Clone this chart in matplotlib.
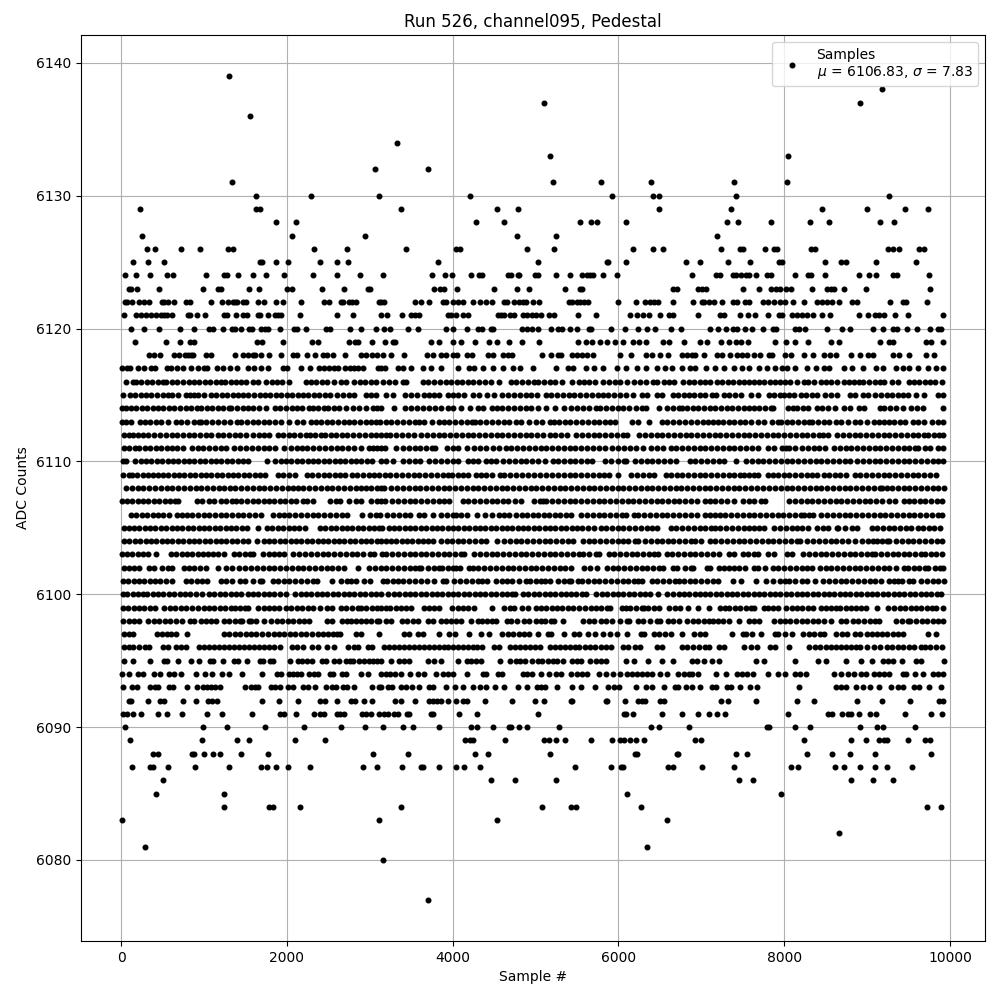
import matplotlib
matplotlib.use("Agg")
import matplotlib.pyplot as plt

# sample numbers, one list per ADC level
s6139 = [1301]
s6138 = [9176]
s6137 = [5108, 8909]
s6136 = [1554]
s6134 = [3325]
s6133 = [5169, 8048]
s6132 = [3060, 3699]
s6131 = [1337, 5205, 5795, 6398, 7394, 8036]
s6130 = [1626, 2289, 3108, 4205, 5928, 6422, 6494, 7418, 9260]
s6129 = [229, 1626, 1675, 3373, 4530, 4783, 6494, 7358, 8461, 8994, 9454, 9733]
s6128 = [1867, 2108, 4277, 4614, 5542, 5675, 5747, 6096, 7309, 7442, 7842, 8315, 8545, 9151, 9321]
s6127 = [253, 2060, 2940, 4771, 5241, 7188]
s6126 = [313, 410, 723, 952, 1289, 1353, 2325, 2723, 3434, 4036, 4084, 4892, 5217, 6181, 6422, 6542,
         7236, 7467, 7503, 7770, 7879, 7915, 8327, 8376, 9248, 9309, 9382, 9624, 9685]
s6125 = [145, 325, 518, 1675, 1699, 1867, 2012, 2398, 2602, 2735, 3819, 5024, 5867, 5880, 6096,
         6812, 6982, 7321, 7588, 7939, 7976, 8497, 8691, 8751, 9103, 9588]
s6124 = [48, 181, 349, 554, 626, 1024, 1241, 1277, 1410, 1590, 1747, 1964, 2313, 2602, 2880,
         3157, 3747, 3904, 3988, 4217, 4313, 4349, 4663, 4699, 4783, 4795, 4988, 5024, 5253, 5410,
         5566, 5627, 5663, 5699, 5819, 5988, 6885, 7176, 7224, 7382, 7418, 7479, 7539, 7576, 7661,
         7794, 7842, 8133, 8291, 8327, 8497, 8897, 9018, 9103, 9309, 9357, 9745]
s6123 = [96, 120, 193, 458, 988, 1169, 1205, 1542, 1663, 2000, 2060, 2422, 2687, 2976, 3000,
         3771, 3843, 3892, 4048, 4494, 4771, 4916, 5361, 5542, 5566, 6663, 6711, 6958, 7006, 7055,
         7503, 7697, 7842, 7903, 7952, 8024, 8085, 8339, 8521, 8570, 8606, 8727, 8982, 9757]
s6122 = [48, 72, 133, 217, 277, 337, 494, 518, 566, 639, 783, 831, 1084, 1217, 1289, 1349, 1373, 1397,
         1470, 1506, 1651, 1723, 1867, 1952, 2169, 2446, 2506, 2651, 2675, 2747, 2783, 2831, 3108,
         3140, 3176, 3542, 3614, 3711, 3880, 3916, 4000, 4060, 4120, 4241, 4325, 4398, 4470, 4614,
         4651, 4735, 4795, 4843, 4880, 4964, 5036, 5398, 5446, 5506, 5542, 5590, 5639, 6000, 6217,
         6325, 6386, 6434, 6482, 6663, 6897, 7006, 7030, 7091, 7152, 7249, 7382, 7430, 7527, 7576,
         7745, 7806, 7879, 7952, 8012, 8109, 8242, 8400, 8461, 8521, 8582, 8667, 8824, 8873, 9273,
         9430, 9467, 9721]
s6121 = [36, 181, 241, 301, 361, 422, 482, 518, 554, 614, 807, 831, 916, 1012, 1241, 1277, 1386, 1470,
         1518, 1651, 1675, 1771, 1855, 1892, 1928, 2157, 2602, 2795, 3133, 3205, 3386, 3494, 3542,
         3590, 3940, 3976, 4036, 4120, 4181, 4542, 4578, 4614, 4687, 4735, 4843, 4892, 4952, 5000,
         5072, 5157, 5217, 5518, 5735, 6145, 6229, 6301, 6373, 6506, 6614, 6663, 6958, 7224, 7273,
         7467, 7564, 7648, 7806, 7939, 7976, 8097, 8158, 8218, 8279, 8351, 8461, 8558, 8897, 9006,
         9091, 9139, 9200, 9333, 9491, 9915]
s6120 = [120, 277, 458, 711, 880, 1060, 1108, 1229, 1337, 1373, 1446, 1542, 1578, 1687, 1735, 1771,
         1916, 2084, 2121, 2229, 2470, 2518, 2759, 2892, 3072, 3169, 3241, 3458, 3578, 3916, 4000,
         4169, 4301, 4349, 4458, 4482, 4831, 4892, 4952, 5024, 5181, 5277, 5325, 5410, 5506, 5651,
         5675, 5916, 6084, 6241, 6349, 6446, 6639, 6752, 7103, 7200, 7297, 7382, 7430, 7527, 7612,
         7745, 7867, 7903, 8133, 8182, 8255, 8521, 8703, 8788, 9067, 9188, 9309, 9357, 9479, 9600,
         9757, 9855, 9891]
s6119 = [169, 542, 711, 831, 880, 1638, 1699, 1952, 2301, 2373, 2747, 2819, 2855, 3024, 3181, 3277, 3301,
         3735, 3831, 4000, 4096, 4265, 4434, 4530, 4675, 4831, 5036, 5518, 5614, 5687, 5783, 5867,
         5964, 6060, 6181, 6253, 6337, 6542, 6614, 6788, 6982, 7067, 7236, 7333, 7418, 7479, 7564,
         7887, 8024, 8133, 8291, 8570, 8667, 9151, 9261, 9309, 9709, 9770, 9915]
s6118 = [337, 402, 466, 642, 699, 771, 803, 843, 867, 1028, 1084, 1373, 1470, 1534, 1590, 1618, 1690,
         1787, 1928, 2072, 2120, 2241, 2337, 2434, 2490, 2554, 2699, 2896, 2960, 3028, 3084, 3157,
         3257, 3410, 3687, 3759, 3855, 3920, 4000, 4048, 4169, 4229, 4422, 4482, 4602, 4663, 4711,
         5084, 5181, 5277, 5313, 5434, 5506, 5566, 5627, 5699, 6024, 6157, 6337, 6410, 6506, 6602,
         6763, 6823, 6884, 6920, 7030, 7188, 7249, 7350, 7430, 7491, 7552, 7633, 7713, 7814, 7855,
         8012, 8085, 8242, 8351, 8485, 8558, 8630, 8812, 8909, 9006, 9067, 9309, 9382, 9503, 9709, 9806]
s6117 = [12, 72, 104, 205, 281, 365, 410, 554, 602, 675, 747, 847, 928, 1000, 1040, 1157, 1229, 1313, 1398,
         1530, 1602, 1686, 1771, 1952, 2000, 2169, 2277, 2386, 2446, 2506, 2566, 2614, 2699, 2759,
         2807, 2855, 2916, 3096, 3133, 3189, 3337, 3398, 3498, 3639, 3739, 3859, 4060, 4201, 4253,
         4361, 4482, 4602, 4723, 4807, 4964, 5253, 5386, 5458, 5606, 5707, 5815, 5988, 6088, 6229,
         6329, 6470, 6562, 6651, 6764, 6865, 6925, 7055, 7168, 7269, 7390, 7491, 7572, 7693, 7794,
         7895, 7976, 8036, 8133, 8279, 8380, 8485, 8541, 8723, 8824, 8945, 9107, 9188, 9349, 9430,
         9511, 9612, 9733, 9834, 9915]
s6116 = [64, 140, 177, 245, 310, 375, 440, 505, 546, 610, 680, 745, 815, 880, 945, 1010, 1075, 1140, 1205,
         1253, 1325, 1385, 1450, 1510, 1590, 1650, 1747, 1815, 1880, 1940, 2020, 2233, 2290, 2350,
         2418, 2490, 2566, 2650, 2715, 2815, 2880, 2940, 3016, 3080, 3157, 3229, 3301, 3398, 3438,
         3639, 3705, 3775, 3845, 3915, 3985, 4050, 4115, 4185, 4245, 4321, 4390, 4462, 4554, 4703,
         4770, 4840, 4904, 4980, 5030, 5100, 5170, 5240, 5325, 5438, 5526, 5590, 5650, 5720, 5808,
         5888, 5960, 6020, 6108, 6190, 6260, 6330, 6420, 6470, 6550, 6610, 6670, 6784, 6850, 6915,
         6985, 7050, 7110, 7188, 7250, 7320, 7385, 7450, 7515, 7570, 7630, 7695, 7760, 7825, 7890,
         7950, 8010, 8075, 8158, 8235, 8290, 8360, 8440, 8510, 8570, 8640, 8720, 8780, 8840, 8900,
         8955, 9026, 9090, 9150, 9210, 9300, 9375, 9500, 9565, 9630, 9695, 9760, 9820, 9905]
s6115 = [24, 105, 170, 235, 300, 365, 430, 506, 570, 620, 687, 785, 830, 880, 930, 1000, 1084, 1150, 1215,
         1280, 1345, 1410, 1475, 1530, 1600, 1670, 1735, 1800, 1865, 1930, 2000, 2065, 2130, 2195,
         2260, 2330, 2390, 2455, 2515, 2610, 2680, 2750, 2810, 2950, 3010, 3075, 3200, 3285, 3430,
         3500, 3570, 3660, 3720, 3780, 3840, 3940, 4010, 4070, 4140, 4240, 4320, 4420, 4500, 4590,
         4670, 4745, 4810, 4880, 4950, 5020, 5125, 5190, 5260, 5330, 5400, 5470, 5540, 5610, 5680,
         5750, 5820, 5880, 5950, 6020, 6090, 6170, 6290, 6340, 6465, 6530, 6660, 6715, 6790, 6850,
         6915, 6990, 7050, 7125, 7180, 7270, 7330, 7410, 7480, 7600, 7680, 7815, 7880, 7945, 8000,
         8060, 8120, 8200, 8260, 8340, 8400, 8490, 8560, 8640, 8800, 8850, 8945, 9010, 9100, 9170,
         9240, 9300, 9370, 9430, 9490, 9590, 9690, 9850, 9915]
s6114 = [12, 60, 120, 185, 250, 315, 380, 450, 510, 580, 640, 715, 780, 840, 910, 970, 1035, 1100, 1165,
         1230, 1300, 1330, 1400, 1465, 1530, 1590, 1660, 1750, 1860, 1920, 1990, 2060, 2120, 2180,
         2270, 2310, 2380, 2450, 2500, 2570, 2630, 2715, 2800, 2875, 2960, 3040, 3090, 3136, 3297,
         3430, 3500, 3570, 3640, 3720, 3790, 3860, 3940, 4000, 4100, 4210, 4300, 4370, 4480, 4540,
         4600, 4670, 4740, 4810, 4880, 4950, 5030, 5130, 5230, 5340, 5430, 5500, 5570, 5640, 5730,
         5780, 5850, 5920, 5990, 6060, 6130, 6210, 6290, 6330, 6490, 6590, 6660, 6730, 6770, 6830,
         6900, 6960, 7030, 7100, 7170, 7240, 7310, 7370, 7440, 7510, 7570, 7640, 7700, 7770, 7840,
         7860, 8040, 8110, 8160, 8230, 8290, 8400, 8460, 8530, 8610, 8720, 8790, 8900, 8960, 9150,
         9210, 9280, 9350, 9430, 9530, 9600, 9680, 9915]
s6113 = [12, 60, 125, 225, 290, 345, 420, 480, 560, 660, 725, 800, 880, 945, 965, 1030, 1100, 1170, 1240,
         1310, 1400, 1450, 1520, 1590, 1650, 1720, 1790, 1860, 1930, 2020, 2120, 2190, 2290, 2350,
         2410, 2480, 2550, 2620, 2690, 2750, 2810, 2880, 2950, 3010, 3080, 3120, 3190, 3260, 3330,
         3400, 3470, 3540, 3600, 3660, 3750, 3830, 3890, 3960, 4030, 4100, 4170, 4230, 4270, 4330,
         4400, 4480, 4550, 4620, 4680, 4770, 4830, 4920, 5000, 5080, 5170, 5220, 5280, 5350, 5420,
         5490, 5560, 5630, 5700, 5770, 5840, 5900, 5960, 6160, 6240, 6370, 6520, 6590, 6660, 6730,
         6800, 6870, 6950, 7020, 7080, 7140, 7200, 7260, 7340, 7400, 7470, 7530, 7600, 7680, 7760,
         7850, 7920, 7960, 8030, 8100, 8170, 8240, 8300, 8340, 8410, 8480, 8540, 8620, 8690, 8770,
         8860, 8920, 9000, 9080, 9140, 9200, 9260, 9330, 9400, 9460, 9550, 9620, 9690, 9780, 9860, 9920]
s6112 = [30, 90, 140, 205, 270, 330, 400, 470, 540, 610, 680, 750, 820, 880, 950, 1020, 1090, 1170, 1230,
         1300, 1370, 1440, 1510, 1590, 1660, 1720, 1780, 1890, 1950, 2020, 2090, 2160, 2230, 2280,
         2345, 2410, 2460, 2530, 2590, 2660, 2730, 2800, 2870, 2940, 3010, 3080, 3140, 3190, 3250,
         3320, 3390, 3460, 3530, 3620, 3690, 3760, 3830, 3900, 3970, 4040, 4110, 4180, 4250, 4320,
         4390, 4460, 4530, 4600, 4670, 4740, 4810, 4880, 4950, 5020, 5090, 5175, 5240, 5310, 5375,
         5490, 5560, 5630, 5700, 5770, 5840, 5910, 5980, 6050, 6108, 6250, 6320, 6390, 6460, 6530,
         6600, 6670, 6740, 6810, 6880, 6950, 7020, 7090, 7160, 7230, 7300, 7370, 7440, 7510, 7580,
         7650, 7720, 7790, 7860, 7930, 8000, 8070, 8140, 8210, 8280, 8350, 8420, 8470, 8525, 8640,
         8710, 8780, 8850, 8910, 8990, 9060, 9130, 9200, 9270, 9340, 9410, 9480, 9550, 9620, 9690,
         9730, 9810, 9870, 9920]
s6111 = [32, 95, 165, 215, 290, 350, 420, 485, 550, 615, 680, 750, 855, 925, 990, 1060, 1130, 1200, 1270,
         1360, 1440, 1510, 1580, 1650, 1720, 1790, 1860, 1960, 2050, 2120, 2180, 2245, 2320, 2390,
         2460, 2530, 2600, 2670, 2740, 2810, 2890, 2990, 3040, 3090, 3140, 3180, 3317, 3400, 3470,
         3540, 3610, 3680, 3750, 3790, 3930, 4000, 4070, 4170, 4260, 4330, 4400, 4490, 4562, 4640,
         4710, 4780, 4850, 4920, 4990, 5060, 5130, 5200, 5270, 5340, 5410, 5480, 5550, 5620, 5690,
         5760, 5840, 5920, 6000, 6070, 6140, 6210, 6300, 6390, 6460, 6540, 6640, 6700, 6770, 6840,
         6910, 6980, 7050, 7120, 7190, 7260, 7330, 7400, 7470, 7540, 7610, 7680, 7810, 7880, 7970,
         8020, 8060, 8130, 8220, 8290, 8360, 8420, 8490, 8600, 8670, 8740, 8810, 8880, 8950, 9020,
         9090, 9160, 9230, 9300, 9370, 9450, 9500, 9580, 9620, 9700, 9760, 9860, 9915]
s6110 = [22, 55, 170, 235, 300, 365, 430, 495, 560, 625, 690, 755, 820, 885, 950, 1015, 1080, 1145, 1210,
         1275, 1340, 1405, 1470, 1530, 1762, 1860, 1925, 1990, 2055, 2120, 2185, 2250, 2315, 2380,
         2445, 2510, 2575, 2640, 2705, 2770, 2835, 2900, 2965, 3030, 3130, 3190, 3280, 3400, 3470,
         3540, 3610, 3720, 3790, 3860, 3930, 4000, 4060, 4180, 4250, 4310, 4400, 4460, 4520, 4610,
         4680, 4750, 4820, 4890, 4960, 5030, 5110, 5205, 5270, 5340, 5410, 5480, 5550, 5620, 5680,
         5840, 5910, 5990, 6070, 6090, 6200, 6270, 6340, 6410, 6480, 6550, 6620, 6690, 6860, 6930,
         7000, 7070, 7140, 7210, 7270, 7420, 7540, 7610, 7680, 7750, 7820, 7890, 7960, 8030, 8100,
         8170, 8240, 8310, 8380, 8450, 8520, 8590, 8660, 8730, 8790, 8880, 8950, 9020, 9090, 9160,
         9230, 9300, 9370, 9440, 9510, 9580, 9650, 9720, 9790, 9860, 9910]
s6109 = [20, 90, 135, 195, 260, 320, 385, 450, 500, 570, 635, 700, 760, 830, 895, 960, 1025, 1090, 1155,
         1220, 1285, 1350, 1415, 1480, 1545, 1610, 1680, 1735, 1890, 1955, 2020, 2100, 2241, 2305,
         2380, 2446, 2510, 2580, 2640, 2700, 2785, 2850, 2920, 2985, 3050, 3110, 3180, 3250, 3320,
         3390, 3460, 3530, 3595, 3670, 3740, 3810, 3880, 3950, 3990, 4060, 4130, 4190, 4280, 4340,
         4400, 4470, 4570, 4620, 4690, 4760, 4840, 4910, 4980, 5050, 5130, 5200, 5270, 5340, 5410,
         5480, 5550, 5620, 5690, 5760, 5830, 5890, 5990, 6150, 6230, 6300, 6370, 6430, 6570, 6640,
         6710, 6770, 6840, 6910, 6980, 7050, 7120, 7190, 7260, 7330, 7400, 7470, 7510, 7570, 7630,
         7680, 7800, 7860, 7930, 8000, 8060, 8130, 8200, 8270, 8340, 8400, 8480, 8540, 8610, 8670,
         8750, 8850, 8920, 8990, 9060, 9130, 9200, 9270, 9340, 9410, 9480, 9550, 9620, 9690, 9760, 9830]
s6108 = [60, 130, 200, 270, 340, 410, 480, 550, 620, 690, 760, 830, 900, 970, 1040, 1110, 1180, 1240, 1310,
         1380, 1450, 1515, 1590, 1660, 1730, 1800, 1870, 1940, 2010, 2080, 2130, 2200, 2270, 2340,
         2410, 2480, 2550, 2620, 2690, 2760, 2830, 2890, 2950, 3020, 3090, 3140, 3170, 3260, 3330,
         3400, 3470, 3540, 3610, 3680, 3750, 3820, 3890, 3960, 4030, 4100, 4170, 4240, 4310, 4380,
         4450, 4520, 4590, 4660, 4730, 4800, 4870, 4940, 5010, 5080, 5150, 5220, 5290, 5360, 5430,
         5500, 5570, 5640, 5710, 5780, 5850, 5920, 5990, 6060, 6130, 6200, 6270, 6340, 6410, 6480,
         6550, 6620, 6690, 6760, 6830, 6900, 6970, 7040, 7110, 7180, 7250, 7320, 7390, 7460, 7530,
         7600, 7670, 7750, 7820, 7890, 7960, 8030, 8100, 8170, 8240, 8310, 8380, 8450, 8520, 8590,
         8660, 8730, 8800, 8870, 8940, 9010, 9080, 9150, 9180, 9240, 9300, 9370, 9440, 9510, 9580,
         9650, 9720, 9790, 9860, 9925]
s6107 = [12, 70, 135, 200, 265, 330, 395, 460, 525, 590, 650, 690, 915, 980, 1060, 1120, 1210, 1270,
         1340, 1390, 1450, 1520, 1590, 1650, 1720, 1780, 1840, 1915, 1980, 2050, 2110, 2190, 2240, 2310,
         2520, 2590, 2640, 2750, 2830, 2900, 3020, 3090, 3130, 3180, 3270, 3340, 3410, 3480, 3550,
         3620, 3690, 3760, 3830, 3900, 3960, 4120, 4190, 4260, 4330, 4400, 4470, 4540, 4610, 4670,
         4750, 4820, 4980, 5050, 5090, 5130, 5200, 5270, 5340, 5410, 5480, 5550, 5620, 5690, 5760,
         5830, 5900, 5970, 6040, 6110, 6180, 6250, 6320, 6390, 6460, 6530, 6600, 6670, 6730, 6800,
         6870, 6950, 7050, 7100, 7170, 7240, 7310, 7390, 7500, 7570, 7640, 7720, 7770, 8060, 8130,
         8200, 8270, 8340, 8410, 8480, 8550, 8620, 8690, 8760, 8830, 8900, 8970, 9040, 9110, 9180,
         9270, 9340, 9440, 9510, 9570, 9640, 9700, 9770, 9840, 9905]
s6106 = [125, 185, 250, 315, 380, 445, 510, 580, 680, 740, 800, 860, 930, 1000, 1060, 1130, 1200, 1270,
         1340, 1410, 1470, 1540, 1610, 1690, 1830, 1900, 1960, 2020, 2100, 2170, 2240, 2310, 2380,
         2450, 2520, 2590, 2660, 2730, 2910, 3000, 3070, 3120, 3210, 3280, 3350, 3420, 3490, 3590,
         3660, 3760, 3860, 3930, 4010, 4040, 4100, 4170, 4290, 4390, 4480, 4560, 4620, 4680, 4770,
         4840, 4900, 4970, 5030, 5100, 5160, 5230, 5300, 5370, 5430, 5550, 5620, 5690, 5760, 5830,
         5900, 5970, 6040, 6090, 6190, 6240, 6310, 6380, 6450, 6520, 6590, 6660, 6730, 6800, 6870,
         6950, 7040, 7100, 7160, 7220, 7290, 7360, 7430, 7500, 7570, 7640, 7710, 7780, 7850, 7920,
         7990, 8060, 8130, 8200, 8240, 8300, 8350, 8450, 8520, 8590, 8660, 8730, 8800, 8870, 8940,
         9010, 9080, 9150, 9220, 9290, 9360, 9430, 9500, 9570, 9640, 9710, 9780, 9850, 9905]
s6105 = [30, 90, 155, 220, 285, 350, 415, 480, 545, 610, 675, 740, 805, 870, 935, 1000, 1065, 1130, 1195,
         1260, 1325, 1390, 1455, 1525, 1650, 1760, 1825, 1890, 1955, 2020, 2085, 2150, 2215, 2400,
         2465, 2530, 2595, 2660, 2725, 2790, 2855, 2920, 2985, 3050, 3110, 3150, 3230, 3290, 3355,
         3420, 3485, 3550, 3615, 3680, 3745, 3810, 3875, 3940, 4005, 4070, 4135, 4200, 4265, 4330,
         4395, 4460, 4525, 4590, 4655, 4720, 4785, 4850, 4915, 4980, 5045, 5110, 5175, 5240, 5305,
         5370, 5435, 5500, 5565, 5630, 5710, 5790, 5850, 5920, 5990, 6060, 6130, 6200, 6270, 6340,
         6410, 6470, 6640, 6700, 6770, 6840, 6910, 6980, 7050, 7120, 7160, 7230, 7300, 7370, 7440,
         7510, 7580, 7640, 7700, 7760, 7880, 7950, 8020, 8090, 8160, 8220, 8290, 8390, 8470, 8530,
         8640, 8650, 8730, 8820, 8880, 9060, 9120, 9190, 9260, 9330, 9400, 9470, 9530, 9610, 9680,
         9750, 9810, 9880]
s6104 = [40, 100, 165, 230, 295, 360, 425, 490, 555, 620, 685, 750, 815, 880, 945, 1010, 1075, 1140, 1205,
         1270, 1335, 1400, 1465, 1530, 1640, 1720, 1785, 1850, 1915, 1980, 2045, 2110, 2175, 2240,
         2305, 2370, 2435, 2500, 2565, 2630, 2695, 2760, 2825, 2890, 2955, 3020, 3085, 3130, 3190,
         3255, 3320, 3385, 3450, 3515, 3580, 3645, 3700, 3760, 3860, 3930, 3990, 4060, 4130, 4200,
         4270, 4340, 4400, 4540, 4620, 4690, 4760, 4830, 4900, 4970, 5040, 5110, 5180, 5250, 5320,
         5390, 5450, 5570, 5640, 5710, 5780, 5850, 5920, 5990, 6060, 6110, 6200, 6240, 6320, 6390,
         6460, 6530, 6600, 6660, 6730, 6800, 6870, 6930, 7000, 7100, 7170, 7240, 7310, 7380, 7450,
         7520, 7590, 7660, 7730, 7800, 7870, 7940, 8010, 8080, 8150, 8190, 8280, 8350, 8420, 8490,
         8560, 8630, 8700, 8770, 8850, 8940, 9010, 9070, 9120, 9180, 9240, 9270, 9350, 9420, 9490,
         9560, 9630, 9700, 9770, 9840, 9905]
s6103 = [12, 70, 135, 200, 265, 320, 420, 600, 665, 730, 795, 860, 925, 990, 1050, 1110, 1170, 1240, 1360,
         1420, 1490, 1550, 1590, 1710, 1780, 1840, 1910, 1960, 2080, 2150, 2220, 2290, 2360, 2430,
         2500, 2570, 2640, 2710, 2780, 2850, 2920, 3000, 3050, 3150, 3200, 3270, 3340, 3410, 3480,
         3540, 3620, 3680, 3750, 3820, 3890, 3960, 4030, 4100, 4140, 4260, 4330, 4400, 4470, 4540,
         4610, 4680, 4750, 4820, 4890, 4960, 5030, 5100, 5170, 5240, 5310, 5380, 5450, 5520, 5570,
         5650, 5730, 5770, 5890, 5950, 6020, 6090, 6160, 6230, 6300, 6370, 6430, 6480, 6590, 6650,
         6720, 6790, 6860, 6930, 7000, 7070, 7140, 7210, 7330, 7395, 7500, 7560, 7630, 7680, 7800,
         7880, 8030, 8100, 8230, 8300, 8370, 8440, 8510, 8580, 8650, 8720, 8790, 8860, 8930, 9000,
         9060, 9100, 9170, 9240, 9310, 9370, 9440, 9510, 9580, 9650, 9700, 9770, 9830, 9905]
s6102 = [30, 90, 155, 215, 340, 400, 490, 560, 620, 760, 825, 880, 950, 1020, 1170, 1270, 1340, 1420, 1500,
         1570, 1640, 1710, 1780, 1850, 1920, 1990, 2060, 2130, 2200, 2270, 2340, 2410, 2480, 2550,
         2620, 2690, 2860, 2990, 3060, 3130, 3200, 3270, 3340, 3410, 3480, 3550, 3590, 3620, 3700,
         3770, 3840, 3870, 3940, 4010, 4040, 4090, 4200, 4240, 4310, 4380, 4450, 4520, 4590, 4670,
         4730, 4800, 4870, 4940, 5010, 5080, 5150, 5220, 5290, 5360, 5430, 5590, 5660, 5740, 5860,
         5930, 6000, 6070, 6140, 6210, 6280, 6350, 6420, 6490, 6540, 6660, 6710, 6800, 6870, 6900,
         7070, 7100, 7210, 7270, 7340, 7400, 7450, 7530, 7640, 7690, 7770, 7860, 7930, 8000, 8070,
         8140, 8210, 8280, 8330, 8430, 8500, 8570, 8640, 8710, 8780, 8850, 8920, 8990, 9060, 9130,
         9200, 9260, 9350, 9440, 9490, 9570, 9630, 9700, 9730, 9815, 9880, 9920]
s6101 = [25, 85, 150, 215, 280, 345, 410, 475, 540, 610, 780, 845, 910, 975, 1040, 1200, 1270, 1340, 1430,
         1500, 1590, 1670, 1700, 1830, 1890, 1960, 2030, 2100, 2170, 2240, 2310, 2365, 2540, 2650,
         2730, 2770, 2830, 2930, 3000, 3160, 3210, 3275, 3340, 3405, 3470, 3540, 3620, 3690, 3770,
         3880, 3920, 4020, 4090, 4160, 4230, 4300, 4360, 4420, 4520, 4590, 4660, 4720, 4800, 4880,
         4930, 5000, 5060, 5120, 5170, 5270, 5340, 5400, 5430, 5510, 5560, 5630, 5700, 5770, 5840,
         5910, 5980, 6050, 6120, 6190, 6240, 6280, 6400, 6470, 6540, 6610, 6680, 6730, 6790, 6860,
         6930, 7000, 7070, 7140, 7200, 7380, 7480, 7660, 7780, 7860, 7950, 8010, 8060, 8130, 8210,
         8278, 8370, 8470, 8540, 8610, 8680, 8750, 8820, 8890, 8960, 9030, 9100, 9170, 9260, 9330,
         9370, 9420, 9500, 9720, 9790, 9855, 9925, 9560, 9650]
s6100 = [20, 75, 140, 205, 260, 315, 380, 445, 510, 575, 640, 705, 770, 835, 900, 980, 1060, 1125, 1190,
         1255, 1320, 1385, 1450, 1530, 1590, 1655, 1720, 1785, 1850, 1915, 1985, 2100, 2165, 2230,
         2295, 2360, 2425, 2490, 2555, 2620, 2685, 2750, 2815, 2880, 2945, 3010, 3075, 3130, 3220,
         3290, 3355, 3420, 3485, 3550, 3615, 3680, 3745, 3810, 3875, 3940, 4005, 4070, 4135, 4200,
         4265, 4330, 4395, 4460, 4525, 4590, 4655, 4720, 4750, 4850, 4915, 4980, 5045, 5110, 5175,
         5240, 5305, 5370, 5430, 5490, 5560, 5610, 5730, 5800, 5865, 5930, 5995, 6060, 6125, 6190,
         6255, 6320, 6385, 6480, 6590, 6660, 6725, 6790, 6855, 6920, 6985, 7050, 7110, 7180, 7240,
         7305, 7370, 7435, 7500, 7565, 7630, 7695, 7760, 7825, 7890, 7955, 8020, 8085, 8150, 8215,
         8280, 8345, 8410, 8475, 8540, 8605, 8670, 8735, 8800, 8865, 8930, 8995, 9060, 9125, 9190,
         9255, 9320, 9385, 9450, 9515, 9580, 9645, 9710, 9775, 9840, 9890]
s6099 = [25, 85, 150, 215, 280, 345, 410, 518, 590, 655, 720, 785, 850, 928, 1000, 1060, 1125, 1190, 1255,
         1320, 1380, 1433, 1490, 1530, 1650, 1720, 1785, 1850, 1900, 1990, 2055, 2120, 2185, 2250,
         2320, 2400, 2480, 2540, 2650, 2715, 2780, 2860, 2900, 2960, 3025, 3090, 3130, 3190, 3250,
         3315, 3380, 3440, 3500, 3650, 3710, 3780, 3840, 3990, 4060, 4125, 4190, 4260, 4470, 4620,
         4690, 4740, 4840, 4910, 5010, 5070, 5130, 5195, 5260, 5325, 5390, 5450, 5530, 5600, 5665,
         5730, 5795, 5860, 5900, 6040, 6090, 6145, 6215, 6280, 6310, 6360, 6425, 6490, 6610, 6680,
         6740, 6835, 6965, 7095, 7230, 7280, 7340, 7405, 7470, 7535, 7600, 7630, 7760, 7800, 7870,
         7925, 8020, 8090, 8150, 8220, 8290, 8350, 8440, 8510, 8560, 8630, 8670, 8750, 8810,
         8870, 8930, 8990, 9120, 9250, 9330, 9395, 9460, 9525, 9590, 9650, 9720, 9780, 9830, 9915]
s6098 = [25, 90, 150, 215, 330, 395, 460, 525, 590, 660, 740, 830, 880, 960, 1025, 1090, 1150, 1240, 1305,
         1370, 1430, 1460, 1540, 1565, 1625, 1720, 1810, 1880, 1945, 2010, 2080, 2145, 2210, 2270,
         2480, 2540, 2660, 2725, 2770, 2830, 2900, 2950, 3020, 3090, 3110, 3200, 3260, 3390, 3450,
         3520, 3580, 3700, 3760, 3860, 3920, 3980, 4040, 4100, 4220, 4300, 4350, 4420, 4480, 4520,
         4650, 4700, 4780, 4860, 4920, 5000, 5060, 5120, 5185, 5220, 5330, 5570, 5640, 5700, 5790,
         5850, 5920, 6020, 6100, 6130, 6240, 6300, 6380, 6460, 6500, 6600, 6660, 6735, 6830, 6900,
         6960, 7030, 7090, 7140, 7200, 7260, 7330, 7460, 7580, 7640, 7700, 7880, 7950, 8010, 8070,
         8140, 8210, 8280, 8350, 8410, 8480, 8560, 8680, 8750, 8830, 8890, 8960, 9030, 9090, 9140,
         9350, 9420, 9490, 9520, 9590, 9660, 9720, 9790, 9850, 9915]
s6097 = [30, 95, 140, 430, 490, 550, 600, 667, 790, 1241, 1300, 1375, 1440, 1510, 1570, 1630, 1700, 1770,
         1840, 1905, 1970, 2040, 2100, 2170, 2235, 2300, 2370, 2430, 2500, 2560, 2610, 2640, 2830,
         2900, 3116, 3410, 3470, 3580, 3640, 3830, 3960, 4030, 4200, 4340, 4440, 4600, 4670, 4730,
         4800, 4860, 4920, 5030, 5150, 5190, 5340, 5460, 5530, 5630, 5720, 5810, 5900, 5980, 6100,
         6270, 6310, 6430, 6490, 6560, 6640, 6770, 6910, 6990, 7040, 7370, 7500, 7540, 7610, 7720,
         7890, 7930, 8010, 8100, 8230, 8300, 8360, 8430, 8480, 8620, 8700, 8760, 8860, 8920, 9000,
         9060, 9120, 9180, 9240, 9310, 9370, 9430, 9730, 9830]
s6096 = [36, 96, 145, 217, 285, 337, 506, 560, 660, 720, 780, 940, 1000, 1060, 1120, 1180, 1240, 1300, 1360,
         1420, 1480, 1540, 1600, 1660, 1730, 1790, 1850, 1916, 2060, 2120, 2200, 2300, 2373, 2480,
         2565, 2735, 2810, 2860, 2980, 3030, 3170, 3230, 3290, 3350, 3410, 3470, 3530, 3590, 3650,
         3710, 3770, 3835, 3900, 3950, 4010, 4060, 4120, 4190, 4240, 4290, 4350, 4500, 4560, 4690,
         4750, 4810, 4870, 4930, 4990, 5050, 5180, 5240, 5300, 5360, 5420, 5480, 5520, 5600, 5660,
         5720, 5790, 5850, 5910, 6050, 6120, 6200, 6260, 6470, 6530, 6770, 6830, 6900, 6970, 7040,
         7090, 7210, 7270, 7520, 7600, 7670, 7830, 7890, 8060, 8300, 8370, 8430, 8500, 8560, 8620,
         8680, 8750, 8810, 8870, 8920, 9000, 9080, 9160, 9240, 9300, 9370, 9430, 9500, 9570, 9650,
         9700, 9760, 9830, 9900]
s6095 = [36, 145, 349, 518, 554, 687, 843, 940, 1072, 1108, 1229, 1361, 1410, 1518, 1675, 1711, 1795, 1831,
         2036, 2133, 2181, 2241, 2301, 2422, 2470, 2566, 2627, 2711, 2759, 2795, 2867, 2928, 2988,
         3036, 3084, 3137, 3257, 3357, 3418, 3478, 3699, 3771, 3855, 4060, 4169, 4225, 4285, 4341,
         4570, 4691, 4763, 4807, 4867, 4952, 5024, 5084, 5145, 5205, 5265, 5337, 5434, 5506, 5546,
         5655, 5727, 5787, 5847, 6088, 6189, 6361, 6530, 6663, 6885, 6945, 7030, 7127, 7212, 7661,
         7758, 8125, 8412, 8501, 8743, 8925, 9058, 9188, 9248, 9309, 9422, 9592, 9652, 9927]
s6094 = [12, 96, 205, 265, 398, 470, 578, 639, 723, 904, 1012, 1096, 1217, 1301, 1458, 1699, 1880, 1928, 2024,
         2072, 2120, 2169, 2265, 2325, 2373, 2518, 2554, 2663, 2711, 2892, 2976, 3140, 3190, 3240,
         3300, 3380, 3482, 3578, 3651, 3799, 3880, 3940, 4000, 4173, 4361, 4402, 4542, 4590, 4843,
         4900, 4960, 5064, 5157, 5245, 5305, 5426, 5506, 5566, 5626, 5767, 5855, 5940, 6024, 6108,
         6169, 6230, 6290, 6350, 6410, 6506, 6590, 6723, 6790, 6850, 6890, 6955, 7176, 7297, 7430,
         7491, 7552, 7620, 7806, 7927, 8008, 8133, 8186, 8267, 8606, 8683, 8764, 8844, 8925, 8986,
         9079, 9147, 9208, 9269, 9430, 9470, 9584, 9673, 9794, 9855, 9915]
s6093 = [24, 133, 193, 349, 410, 446, 578, 626, 795, 916, 988, 1036, 1084, 1132, 1193, 1494, 1566, 1614, 1651,
         1807, 1855, 1916, 2012, 2072, 2193, 2253, 2337, 2470, 2542, 2590, 2675, 2723, 2807, 3024, 3108,
         3137, 3217, 3265, 3378, 3438, 3506, 3590, 3719, 3759, 3916, 4024, 4120, 4241, 4325, 4402,
         4510, 4622, 4783, 4892, 5012, 5060, 5112, 5265, 5446, 5554, 5719, 5880, 5952, 6012, 6217,
         6337, 6410, 6554, 6683, 6723, 6812, 6885, 6986, 7127, 7176, 7309, 7358, 7467, 7588, 7673,
         8182, 8622, 8683, 8751, 8861, 8945, 9034, 9147, 9289, 9370, 9430, 9572, 9632, 9745, 9891]
s6092 = [96, 120, 325, 470, 518, 747, 904, 1048, 1096, 1157, 1699, 1904, 2133, 2398, 2458, 2602, 2771, 2819,
         2928, 3024, 3301, 3373, 3550, 3711, 3759, 3807, 3855, 3940, 4036, 4120, 4169, 4386, 4711,
         4988, 5108, 5422, 5446, 5847, 5867, 6084, 6241, 6289, 6325, 6506, 6554, 7236, 7321, 7661,
         8158, 8364, 8873, 9176, 9515, 9866, 9915]
s6091 = [24, 72, 145, 241, 446, 554, 735, 1036, 1217, 1578, 1916, 1964, 2108, 2325, 2398, 2446, 2602, 2639,
         2687, 2904, 2952, 3012, 3116, 3177, 3217, 3289, 3337, 3446, 3478, 3735, 3767, 4072, 4289,
         5024, 6072, 6096, 6181, 6530, 6764, 6958, 7091, 7188, 7285, 8048, 8533, 8582, 8703, 8764,
         8812, 8897, 9030, 9103, 9454, 9770, 9903]
s6090 = [48, 988, 1277, 1735, 2205, 2651, 2940, 3157, 3398, 3518, 3831, 4217, 4289, 4482, 4675, 4699, 4795,
         4892, 5289, 6398, 6494, 6849, 7794, 7814, 8133, 8315, 8909, 9115, 9188, 9576]
s6089 = [108, 976, 1398, 1542, 2096, 2458, 4145, 4205, 4241, 4627, 5108, 5157, 5253, 5361, 5675, 5928, 6024,
         6072, 6145, 6217, 6313, 6921, 6994, 8242, 8812, 8982, 9139, 9200, 9236, 9491, 9697, 9757]
s6088 = [386, 446, 855, 880, 1000, 1108, 1193, 1446, 1771, 3036, 3458, 4269, 4422, 5169, 6205, 6229, 6711,
         6723, 7418, 7552, 8279, 8582, 8788, 9091, 9770]
s6087 = [133, 349, 386, 566, 892, 1301, 1687, 1759, 1867, 2012, 2277, 2916, 3084, 3386, 3614, 3639, 3831, 4036,
         4133, 4325, 5482, 5916, 6036, 6060, 6602, 6663, 7006, 7394, 8085, 8170, 8618, 8727, 8909,
         9091, 9236, 9539]
s6086 = [506, 4458, 4747, 5253, 7455, 7624, 8804, 9067, 9309]
s6085 = [422, 1241, 6108, 7964]
s6084 = [1241, 1783, 1831, 2157, 3373, 5084, 5422, 5494, 6277, 9721, 9891]
s6083 = [12, 3108, 4530, 6590]
s6082 = [8667]
s6081 = [289, 6349]
s6080 = [3157]
s6077 = [3699]

rows = [(6139, s6139), (6138, s6138), (6137, s6137), (6136, s6136), (6134, s6134), (6133, s6133),
        (6132, s6132), (6131, s6131), (6130, s6130), (6129, s6129), (6128, s6128), (6127, s6127),
        (6126, s6126), (6125, s6125), (6124, s6124), (6123, s6123), (6122, s6122), (6121, s6121),
        (6120, s6120), (6119, s6119), (6118, s6118), (6117, s6117), (6116, s6116), (6115, s6115),
        (6114, s6114), (6113, s6113), (6112, s6112), (6111, s6111), (6110, s6110), (6109, s6109),
        (6108, s6108), (6107, s6107), (6106, s6106), (6105, s6105), (6104, s6104), (6103, s6103),
        (6102, s6102), (6101, s6101), (6100, s6100), (6099, s6099), (6098, s6098), (6097, s6097),
        (6096, s6096), (6095, s6095), (6094, s6094), (6093, s6093), (6092, s6092), (6091, s6091),
        (6090, s6090), (6089, s6089), (6088, s6088), (6087, s6087), (6086, s6086), (6085, s6085),
        (6084, s6084), (6083, s6083), (6082, s6082), (6081, s6081), (6080, s6080), (6077, s6077)]

sample_no = []
counts = []
for level, samples in rows:
    sample_no += samples
    counts += [level] * len(samples)

mu = 6106.83
sigma = 7.83

fig, ax = plt.subplots(figsize=(10, 10))
ax.plot(sample_no, counts, "k.", markersize=6.6,
        label="Samples\n$\\mu$ = %.2f, $\\sigma$ = %.2f" % (mu, sigma))
ax.set_title("Run 526, channel095, Pedestal")
ax.set_xlabel("Sample #")
ax.set_ylabel("ADC Counts")
ax.grid(True)
ax.legend(loc="upper right")
fig.subplots_adjust(left=0.081, right=0.985, top=0.965, bottom=0.059)
fig.savefig("out.png", dpi=100)
